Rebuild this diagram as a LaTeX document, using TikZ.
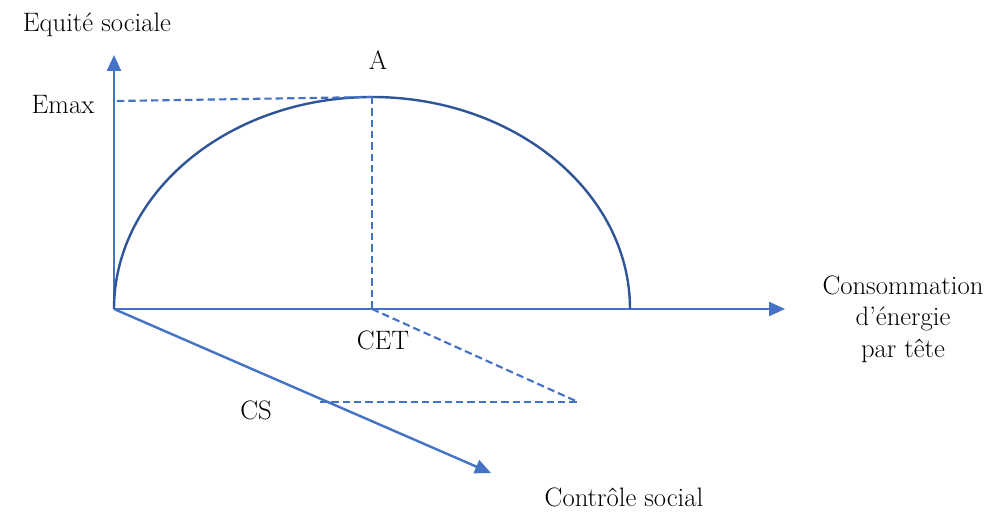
\documentclass[tikz,border=0pt]{standalone}
\usetikzlibrary{arrows.meta}
\definecolor{axisblue}{HTML}{4472C4}
\definecolor{arcblue}{HTML}{2F5597}
\begin{document}
\begin{tikzpicture}[x=0.75pt,y=0.75pt,
  axis/.style={draw=axisblue,line width=1.8pt,-{Triangle[length=12pt,width=10.5pt]}},
  guide/.style={draw=axisblue,line width=1.6pt,dash pattern=on 5.5pt off 3pt},
  curve/.style={draw=arcblue,line width=1.8pt},
  lbl/.style={font=\fontsize{20}{23.6}\selectfont,inner sep=0pt,text=black}]
\useasboundingbox (0,0) rectangle (1004,511);
% coordinates (pixel x, 511 - pixel y)
\coordinate (O) at (114,202);
\coordinate (Ytip) at (114,456);
\coordinate (Xtip) at (785,202);
\coordinate (Dtip) at (491,38);
\coordinate (Atop) at (372,414);
\coordinate (Eleft) at (117,410);
\coordinate (CETp) at (372,202);
\coordinate (P) at (578,109);
\coordinate (Q) at (320,109);
% axes
\draw[axis] (O) -- (Ytip);
\draw[axis] (O) -- (Xtip);
\draw[axis] (O) -- (Dtip);
% curve
\draw[curve] (O) arc[start angle=180,end angle=0,x radius=258,y radius=212];
% guides
\draw[guide] (Eleft) -- (Atop);
\draw[guide] (Atop) -- (CETp);
\draw[guide] (CETp) -- (P);
\draw[guide] (Q) -- (P);
% labels
\node[lbl] (ly) at (97,486) {Equité sociale};
\node[lbl] (la) at (378,451) {A};
\node[lbl] (le) at (63,406) {Emax};
\node[lbl] (lc) at (383,171) {CET};
\node[lbl] (lcs) at (256,101) {CS};
\node[lbl] (lctrl) at (624,14) {Contrôle social};
\node[lbl,align=center] (lx) at (903,192) {Consommation\\d’énergie\\par tête};
\end{tikzpicture}
\end{document}
